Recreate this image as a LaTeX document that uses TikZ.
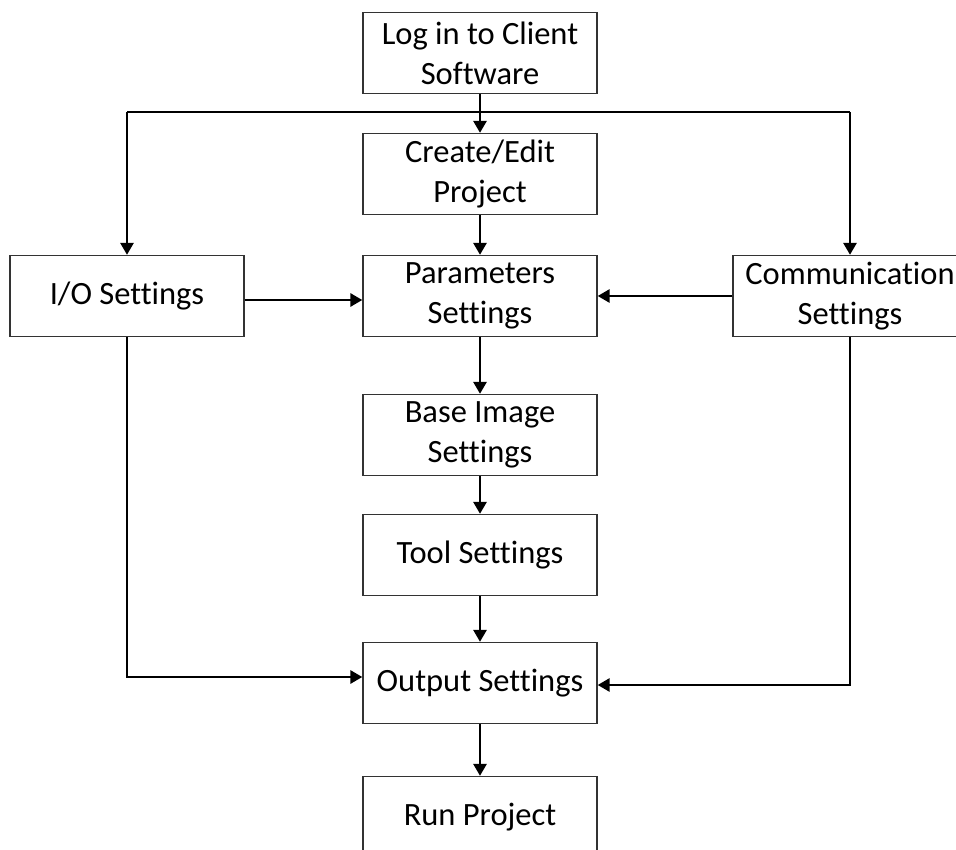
\documentclass[tikz,border=0pt]{standalone}
\usepackage{fontspec}
\setmainfont[Ligatures=NoCommon]{Carlito}
\usetikzlibrary{arrows.meta}
\begin{document}
\begin{tikzpicture}[x=1pt,y=-1pt,
  box/.style={draw=black!80,line width=1.3pt,minimum width=234pt,minimum height=81pt,
    inner sep=0pt,align=center,font=\fontsize{32.5}{40}\selectfont},
  link/.style={line width=2.8pt,-{Triangle[width=13pt,length=12pt]}},
  plain/.style={line width=2.8pt}]
\useasboundingbox (0,0) rectangle (956,850);
\clip (0,0) rectangle (956,850);
\node[box] (log) at (480,53) {Log in to Client\\Software};
\node[box] (create) at (480,174) {Create/Edit\\Project};
\node[box] (param) at (480,296) {Parameters\\Settings};
\node[box] (io) at (127,296) {I/O Settings};
\node[box] (comm) at (850,296) {Communication\\Settings};
\node[box] (base) at (480,435) {Base Image\\Settings};
\node[box] (tool) at (480,555) {Tool Settings};
\node[box] (out) at (480,683) {Output Settings};
\node[box] (run) at (480,817) {Run Project};
\coordinate (bar) at (480,112);
\draw[link] (log) -- (create);
\draw[plain] (bar -| io.north) -- (bar -| comm.north);
\draw[link] (bar -| io.north) -- (io.north);
\draw[link] (bar -| comm.north) -- (comm.north);
\draw[link] (create) -- (param);
\draw[link] ([yshift=-4pt]io.east) -- ([yshift=-4pt]param.west);
\draw[link] (comm) -- (param);
\draw[link] (param) -- (base);
\draw[link] (base) -- (tool);
\draw[link] (tool) -- (out);
\draw[link] (io.south) |- ([yshift=6pt]out.west);
\draw[link] (comm.south) |- ([yshift=-2pt]out.east);
\draw[link] (out) -- (run);
\end{tikzpicture}
\end{document}
